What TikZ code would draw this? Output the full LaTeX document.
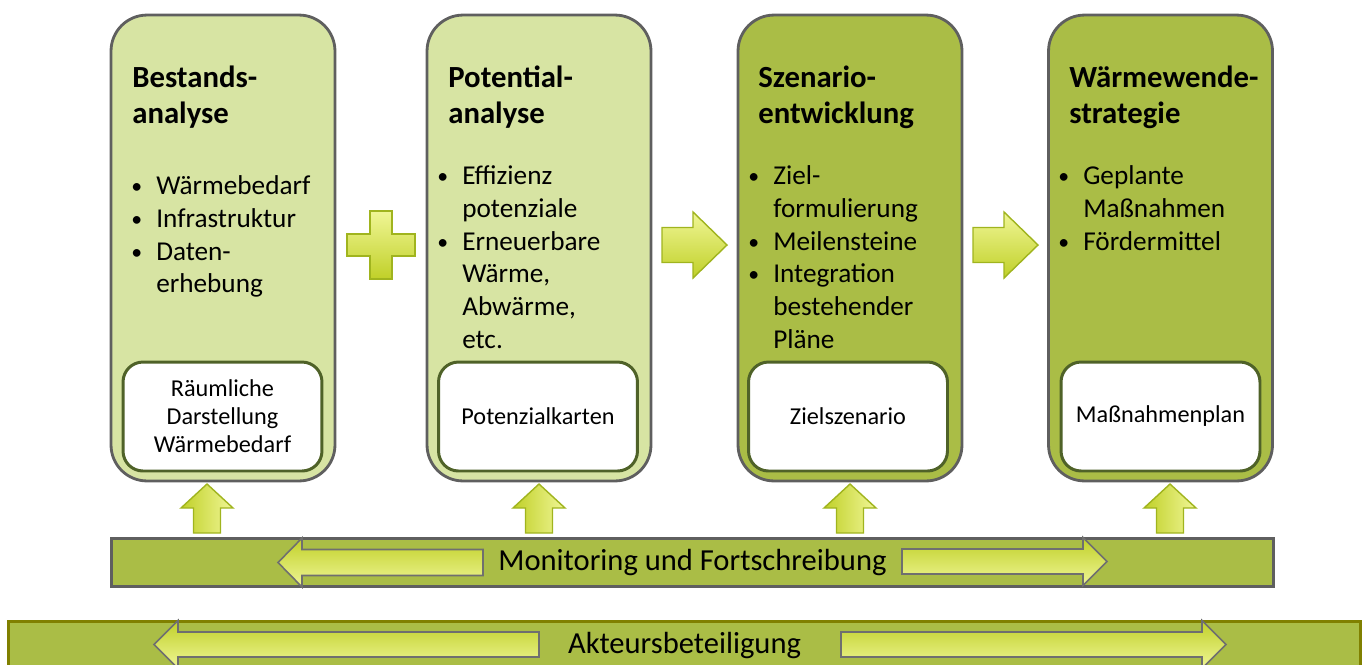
\documentclass[tikz,border=0pt]{standalone}
\usepackage{fontspec}
\setmainfont{Carlito}
\usetikzlibrary{positioning}

\definecolor{lightolive}{RGB}{215,228,163}
\definecolor{darkolive}{RGB}{170,189,70}
\definecolor{boxline}{RGB}{95,95,95}
\definecolor{innerline}{RGB}{79,98,40}
\definecolor{arrlight}{RGB}{240,246,150}
\definecolor{arrdark}{RGB}{192,208,40}
\definecolor{arrline}{RGB}{160,180,30}
\definecolor{aktline}{RGB}{128,128,0}

\newcommand{\bul}{\raisebox{0.6pt}{\scalebox{0.8}{\textbullet}}}

\tikzset{
  pics/blockarrow/.style n args={5}{code={%
    % #1 length, #2 head length, #3 shaft half, #4 head half, #5 style
    \path[#5] (0,-#3) -- ({#1-#2},-#3) -- ({#1-#2},-#4) -- (#1,0)
      -- ({#1-#2},#4) -- ({#1-#2},#3) -- (0,#3) -- cycle;
  }},
}

\begin{document}
\begin{tikzpicture}[x=0.02cm, y=-0.02cm,
  phase/.style={draw=boxline, line width=1.6pt, rounded corners=0.72cm,
    minimum width=4.48cm, minimum height=9.32cm, inner sep=0},
  result/.style={draw=innerline, line width=1.7pt, fill=white, rounded corners=0.4cm,
    minimum width=3.98cm, minimum height=2.18cm, align=center, inner sep=0,
    font=\fontsize{13.8}{16}\selectfont},
  title/.style={anchor=north west, inner sep=0, align=left,
    font=\bfseries\fontsize{17.5}{20}\selectfont},
  list/.style={anchor=north west, inner sep=0, font=\fontsize{15.5}{18.7}\selectfont},
  bar/.style={fill=darkolive, line width=1.6pt, inner sep=0},
  bartext/.style={inner sep=0, font=\fontsize{17.4}{20}\selectfont},
  yelarrow/.style={draw=arrline, line width=0.8pt, top color=arrlight, bottom color=arrdark},
  uparrow/.style={draw=arrline, line width=0.8pt, left color=arrdark, right color=arrlight},
  bararrow/.style={draw=boxline!90, line width=0.9pt, top color=arrdark, bottom color=arrlight},
]
\useasboundingbox (0,0) rectangle (1368,664);

  % Phases
  \node[phase, fill=lightolive] (b1) at (223,248) {};
  \node[phase, fill=lightolive] (b2) at (539,248) {};
  \node[phase, fill=darkolive] (b3) at (850,248) {};
  \node[phase, fill=darkolive] (b4) at (1160.5,248) {};

  % Titles
  \node[title] (t1) at (132,66) {Bestands-\\analyse};
  \node[title] (t2) at (448,66) {Potential-\\analyse};
  \node[title] (t3) at (758,66) {Szenario-\\entwicklung};
  \node[title] (t4) at (1069,66) {Wärmewende-\\strategie};

  % Bullet lists
  \node[list] (l1) at (131,171) {\begin{tabular}{@{}l@{\hspace{8pt}}l@{}}
    \bul & Wärmebedarf\\ \bul & Infrastruktur\\
    \bul & Daten-\\ & erhebung\end{tabular}};
  \node[list] (l2) at (437,161) {\begin{tabular}{@{}l@{\hspace{8pt}}l@{}}
    \bul & Effizienz\\ & potenziale\\ \bul & Erneuerbare\\
    & Wärme,\\ & Abwärme,\\ & etc.\end{tabular}};
  \node[list] (l3) at (748,161) {\begin{tabular}{@{}l@{\hspace{8pt}}l@{}}
    \bul & Ziel-\\ & formulierung\\ \bul & Meilensteine\\
    \bul & Integration\\ & bestehender\\ & Pläne\end{tabular}};
  \node[list] (l4) at (1058,161) {\begin{tabular}{@{}l@{\hspace{8pt}}l@{}}
    \bul & Geplante\\ & Maßnahmen\\ \bul & Fördermittel\end{tabular}};

  % Results
  \node[result] (r1) at (222.5,416.5) {Räumliche\\Darstellung\\Wärmebedarf};
  \node[result] (r2) at (538,416.5) {\raisebox{-3pt}{Potenzialkarten}};
  \node[result] (r3) at (848,416.5) {\raisebox{-3pt}{Zielszenario}};
  \node[result] (r4) at (1160.5,416.5) {\raisebox{-3pt}{Maßnahmenplan}};

  % Bars
  \node[bar, draw=boxline, minimum width=23.24cm, minimum height=0.95cm] (mon)
    at (692.5,562.5) {};
  \node[bar, draw=aktline, minimum width=27.06cm, minimum height=0.94cm] (akt)
    at (684.5,645) {};

  % Plus and flow arrows
  \path[yelarrow] (370,211) -- (392,211) -- (392,234) -- (415,234) -- (415,256)
    -- (392,256) -- (392,279) -- (370,279) -- (370,256) -- (347,256)
    -- (347,234) -- (370,234) -- cycle;
  \pic at (662,245) {blockarrow={65}{34}{17.5}{33}{yelarrow}};
  \pic at (973,245) {blockarrow={65}{34}{17.5}{33}{yelarrow}};

  % Feedback arrows from monitoring
  \foreach \x in {207,539,850,1170}
    \pic[rotate=90] at (\x,533) {blockarrow={49}{24}{13.5}{26}{uparrow}};

  % Arrows inside the bars
  \pic[rotate=180] at (483,562.5) {blockarrow={205}{24}{13}{24.5}{bararrow}};
  \pic at (902,561.5) {blockarrow={205}{24}{12.5}{24}{bararrow}};
  \pic[rotate=180] at (539,644.5) {blockarrow={385}{24}{12.5}{24}{bararrow}};
  \pic at (841,644.5) {blockarrow={385}{24}{12.5}{24}{bararrow}};

  % Bar labels
  \node[bartext] (mont) at (mon.center) {Monitoring und Fortschreibung};
  \node[bartext] (aktt) at (akt.center) {Akteursbeteiligung};

\end{tikzpicture}
\end{document}
